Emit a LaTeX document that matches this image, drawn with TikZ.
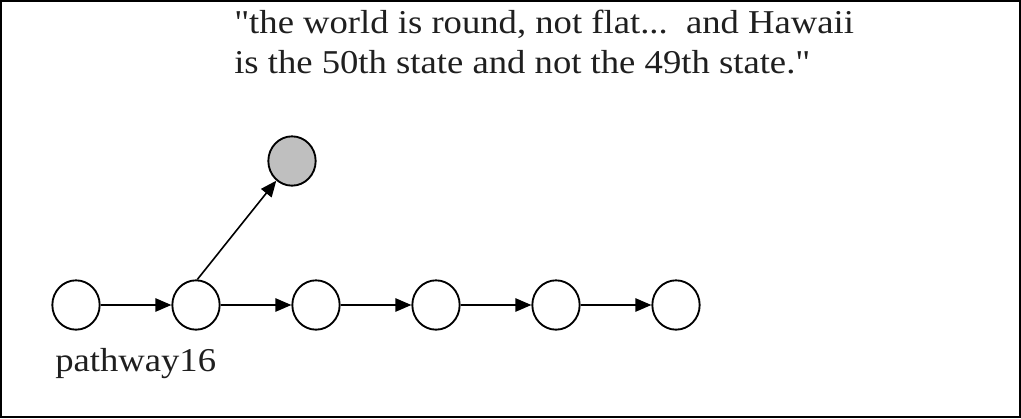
\documentclass[tikz,border=0pt]{standalone}
\usepackage{fontspec}
\setmainfont{Liberation Serif}[Ligatures=TeXOff,FakeStretch=1.1]
\usetikzlibrary{arrows.meta,shapes.geometric}
\begin{document}
\begin{tikzpicture}[x=0.75pt,y=-0.75pt,
  st/.style={ellipse,draw=black,line width=1.4pt,minimum width=35.5pt,minimum height=37pt,inner sep=0pt,fill=white},
  goal/.style={st,fill=gray!50},
  arr/.style={-{Triangle[length=12pt,width=10pt]},line width=1.2pt},
  lbl/.style={font=\fontsize{25}{30}\selectfont,text=black!88,inner sep=0pt}]
\useasboundingbox (0,0) rectangle (1021,418);
\draw[line width=1.5pt] (1,1) rectangle (1020,417);
\node[st] (n1) at (76,305) {};
\node[st] (n2) at (196,305) {};
\node[st] (n3) at (316,305) {};
\node[st] (n4) at (436,305) {};
\node[st] (n5) at (556,305) {};
\node[st] (n6) at (676,305) {};
\node[goal] (g) at (292,161) {};
\draw[arr] (n1) -- (n2);
\draw[arr] (n2) -- (n3);
\draw[arr] (n3) -- (n4);
\draw[arr] (n4) -- (n5);
\draw[arr] (n5) -- (n6);
\draw[arr] (n2.87) -- (g);
\node[lbl,anchor=base west,align=left] (q) at (234,73) {"the world is round, not flat...\ \ and Hawaii\\is the 50th state and not the 49th state."};
\node[lbl,anchor=base west] (p) at (55,371) {pathway16};
\end{tikzpicture}
\end{document}
